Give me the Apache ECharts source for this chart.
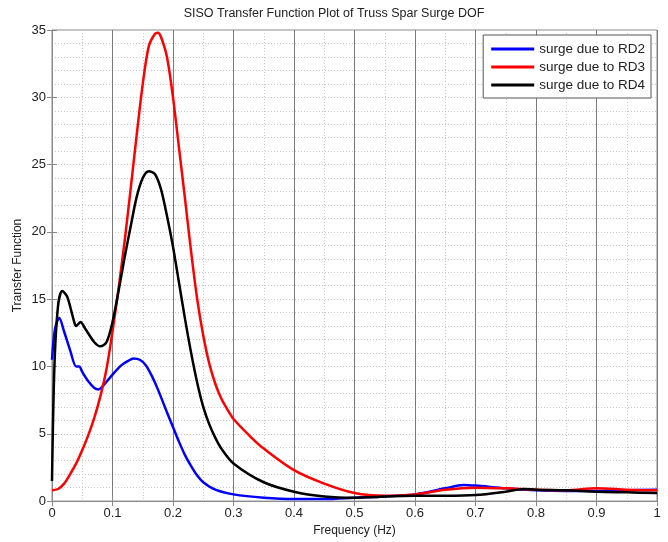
<!DOCTYPE html>
<html lang="en">
<head>
	<meta charset="UTF-8">
	<title>SISO Transfer Function</title>
	<style>
		html, body { margin: 0; padding: 0; background: #fff; }
	</style>
</head>
<body>
	<div id='main' style="width:668px;height:542px;"></div>
</body>
<script src="https://cdn.jsdelivr.net/npm/echarts@6/dist/echarts.min.js"></script>
<script type="text/javascript">
// frequency (Hz) and transfer function values
var rd2Freq = [0, 0.005, 0.012, 0.02, 0.03, 0.04, 0.045, 0.05, 0.06, 0.07, 0.077, 0.085, 0.1, 0.115, 0.125, 0.135, 0.145, 0.155, 0.165, 0.175, 0.19, 0.2, 0.21, 0.22, 0.23, 0.24, 0.25, 0.27, 0.3, 0.35, 0.4, 0.45, 0.5, 0.55, 0.6, 0.65, 0.68, 0.7, 0.75, 0.8, 0.85, 0.9, 0.95, 1.0];
var rd2Vals = [10.5, 12.8, 13.6, 12.6, 11.2, 10.0, 10.0, 9.6, 8.9, 8.4, 8.3, 8.6, 9.4, 10.1, 10.4, 10.6, 10.5, 10.1, 9.3, 8.3, 6.6, 5.5, 4.4, 3.4, 2.6, 1.9, 1.4, 0.85, 0.5, 0.25, 0.15, 0.15, 0.25, 0.35, 0.5, 0.95, 1.2, 1.15, 0.95, 0.8, 0.75, 0.75, 0.8, 0.85];

var rd3Freq = [0, 0.01, 0.02, 0.03, 0.04, 0.05, 0.06, 0.07, 0.08, 0.09, 0.1, 0.11, 0.12, 0.13, 0.14, 0.15, 0.16, 0.17, 0.175, 0.18, 0.19, 0.2, 0.21, 0.22, 0.23, 0.24, 0.25, 0.26, 0.27, 0.28, 0.29, 0.3, 0.33, 0.35, 0.4, 0.45, 0.5, 0.55, 0.6, 0.65, 0.7, 0.75, 0.8, 0.85, 0.9, 0.95, 1.0];
var rd3Vals = [0.8, 0.9, 1.3, 2.0, 2.8, 3.8, 4.9, 6.2, 7.8, 9.8, 12.6, 15.8, 19.3, 23.2, 27.2, 31.0, 33.8, 34.7, 34.8, 34.5, 33.0, 30.0, 26.2, 22.4, 18.5, 15.0, 12.3, 10.2, 8.7, 7.6, 6.8, 6.1, 4.7, 3.9, 2.3, 1.3, 0.6, 0.4, 0.5, 0.85, 1.0, 0.95, 0.85, 0.8, 0.95, 0.85, 0.8];

var rd4Freq = [0, 0.004, 0.01, 0.017, 0.025, 0.035, 0.04, 0.047, 0.055, 0.07, 0.08, 0.09, 0.1, 0.11, 0.12, 0.13, 0.14, 0.15, 0.16, 0.17, 0.18, 0.19, 0.2, 0.21, 0.22, 0.23, 0.24, 0.25, 0.26, 0.27, 0.28, 0.3, 0.35, 0.4, 0.45, 0.5, 0.55, 0.6, 0.65, 0.7, 0.75, 0.78, 0.8, 0.85, 0.9, 0.95, 1.0];
var rd4Vals = [1.5, 10.0, 14.5, 15.6, 15.2, 13.6, 13.0, 13.3, 12.8, 11.8, 11.5, 11.8, 13.3, 15.6, 18.1, 20.4, 22.6, 24.0, 24.5, 24.3, 23.2, 21.2, 18.9, 16.2, 13.5, 11.0, 8.8, 7.0, 5.7, 4.7, 3.9, 2.8, 1.4, 0.7, 0.35, 0.25, 0.35, 0.4, 0.4, 0.45, 0.7, 0.9, 0.85, 0.8, 0.7, 0.65, 0.6];

var seriesNames = ['surge due to RD2', 'surge due to RD3', 'surge due to RD4'];
var seriesColors = ['#0000ff', '#ff0000', '#000000'];

function pairs(xs, ys) {
    var out = [];
    for (var i = 0; i < xs.length; i++) {
        out.push([xs[i], ys[i]]);
    }
    return out;
}

var font = 'Liberation Sans, Arial, Helvetica, sans-serif';
var dots = { color: '#c8c8c8', type: [1, 2], width: 1 };

function lineSeries(idx, xs, ys) {
    return {
        name: seriesNames[idx],
        type: 'line',
        data: pairs(xs, ys),
        smooth: 0.3,
        showSymbol: false,
        lineStyle: { color: seriesColors[idx], width: 2.5 },
        itemStyle: { color: seriesColors[idx] },
        z: 3
    };
}

var option = {
    backgroundColor: '#fff',
    animation: false,
    title: {
        text: 'SISO Transfer Function Plot of Truss Spar Surge DOF',
        left: 'center',
        top: 2,
        textStyle: { fontFamily: font, fontSize: 12.5, fontWeight: 'normal', color: '#222' }
    },
    legend: {
        orient: 'vertical',
        right: 17,
        top: 35,
        padding: [6, 6, 5, 8],
        itemGap: 2,
        itemWidth: 43,
        itemHeight: 3,
        icon: 'rect',
        backgroundColor: '#fff',
        borderColor: '#555',
        borderWidth: 1,
        borderRadius: 0,
        textStyle: { fontFamily: font, fontSize: 13.5, color: '#222', lineHeight: 16 },
        data: seriesNames
    },
    grid: {
        left: 52,
        right: 11,
        top: 30,
        bottom: 40,
        show: true,
        borderColor: '#8a8a8a',
        borderWidth: 1
    },
    xAxis: [{
        type: 'value',
        min: 0,
        max: 1,
        interval: 0.1,
        name: 'Frequency (Hz)',
        nameLocation: 'middle',
        nameGap: 21,
        nameTextStyle: { fontFamily: font, fontSize: 12, color: '#222' },
        axisLine: { lineStyle: { color: '#8a8a8a' } },
        axisTick: { inside: true, length: 5, lineStyle: { color: '#8a8a8a' } },
        axisLabel: {
            fontFamily: font, fontSize: 13, color: '#222', margin: 6,
            formatter: function (v) { return String(+v.toFixed(1)); }
        },
        splitLine: { show: true, lineStyle: { color: '#7a7a7a', width: 1 } },
        minorTick: { show: true, splitNumber: 2, length: 0 },
        minorSplitLine: { show: true, lineStyle: dots }
    }, {
        type: 'value',
        position: 'top',
        min: 0,
        max: 1,
        interval: 0.1,
        axisLine: { show: false },
        axisTick: { inside: true, length: 5, lineStyle: { color: '#8a8a8a' } },
        axisLabel: { show: false },
        splitLine: { show: false }
    }],
    yAxis: [{
        type: 'value',
        min: 0,
        max: 35,
        interval: 5,
        name: 'Transfer Function',
        nameLocation: 'middle',
        nameGap: 28,
        nameMoveOverlap: false,
        nameTextStyle: { fontFamily: font, fontSize: 12, color: '#222' },
        axisLine: { show: true, lineStyle: { color: '#8a8a8a' } },
        axisTick: { inside: true, length: 5, lineStyle: { color: '#8a8a8a' } },
        axisLabel: { fontFamily: font, fontSize: 13, color: '#222', margin: 6 },
        splitLine: { show: true, lineStyle: dots },
        minorTick: { show: true, splitNumber: 5, length: 0 },
        minorSplitLine: { show: true, lineStyle: dots }
    }, {
        type: 'value',
        position: 'right',
        min: 0,
        max: 35,
        interval: 5,
        axisLine: { show: false },
        axisTick: { show: true, inside: true, length: 5, lineStyle: { color: '#8a8a8a' } },
        axisLabel: { show: false },
        splitLine: { show: false }
    }],
    series: [
        lineSeries(0, rd2Freq, rd2Vals),
        lineSeries(1, rd3Freq, rd3Vals),
        lineSeries(2, rd4Freq, rd4Vals)
    ]
};

var myChart = echarts.init(document.getElementById('main'));
myChart.setOption(option);
</script>
</html>
